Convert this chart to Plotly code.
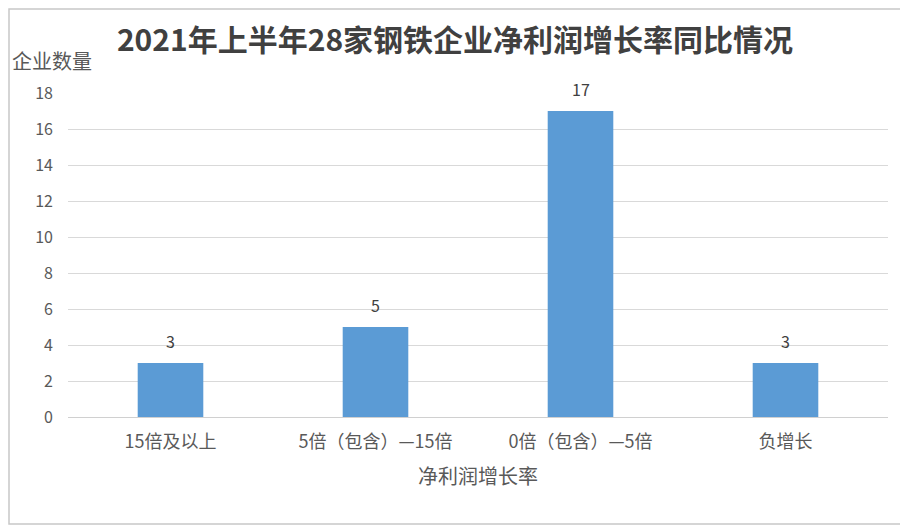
import plotly.graph_objects as go

categories = ['15倍及以上', '5倍（包含）—15倍', '0倍（包含）—5倍', '负增长']
counts = [3, 5, 17, 3]
y_ticks = [0, 2, 4, 6, 8, 10, 12, 14, 16, 18]

FONT = 'Noto Sans CJK SC'
TEXT_COLOR = '#595959'
BAR_COLOR = '#5b9bd5'

# the page has an 8px body margin, so the figure is drawn 8px smaller
W, H = 900, 518
L, R, T, B = 60, 20, 85, 109
PW, PH = W - L - R, H - T - B

fig = go.Figure()
fig.add_trace(go.Bar(x=categories, y=counts, marker=dict(color=BAR_COLOR, line=dict(width=0)),
                     width=0.32))

# value labels above the bars
for cat, val in zip(categories, counts):
    fig.add_annotation(x=cat, y=val, text=str(val), showarrow=False, yanchor='middle', yshift=22,
                       font=dict(size=16, color='#404040'))

fig.update_layout(width=W, height=H, plot_bgcolor='white', paper_bgcolor='white',
                  showlegend=False,
                  margin=dict(l=L, r=R, t=T, b=B),
                  font=dict(family=FONT, size=16, color=TEXT_COLOR),
                  title=dict(text='<b>2021年上半年28家钢铁企业净利润增长率同比情况</b>',
                             x=(447 - L) / PW, xref='paper', xanchor='center',
                             y=1 - 32 / H, yanchor='middle',
                             font=dict(size=30, color='#404040', family=FONT)))

fig.update_xaxes(showgrid=False, showline=True, linecolor='#d0d0d0', linewidth=1,
                 ticks='', ticklabelstandoff=8, tickfont=dict(size=18, color=TEXT_COLOR),
                 title=dict(text='净利润增长率', font=dict(size=20, color=TEXT_COLOR), standoff=18))
fig.update_yaxes(range=[0, 18], tickmode='array', tickvals=y_ticks, showgrid=True,
                 gridcolor='#d9d9d9', gridwidth=1, zeroline=False, showline=False,
                 ticks='', ticklabelstandoff=14, tickfont=dict(size=16, color=TEXT_COLOR))

fig.add_annotation(text='企业数量', xref='paper', yref='paper', x=(44 - L) / PW, y=1 + (T - 52) / PH,
                   xanchor='center', yanchor='middle', showarrow=False,
                   font=dict(size=20, color=TEXT_COLOR))

# light frame around the whole picture
fig.add_shape(type='rect', xref='paper', yref='paper',
              x0=(1 - L) / PW, x1=1 + (R - 2) / PW, y0=-(B - 2) / PH, y1=1 + (T - 1) / PH,
              line=dict(color='#c8c8c8', width=1.5), fillcolor='rgba(0,0,0,0)')

fig.write_html('out.html')
